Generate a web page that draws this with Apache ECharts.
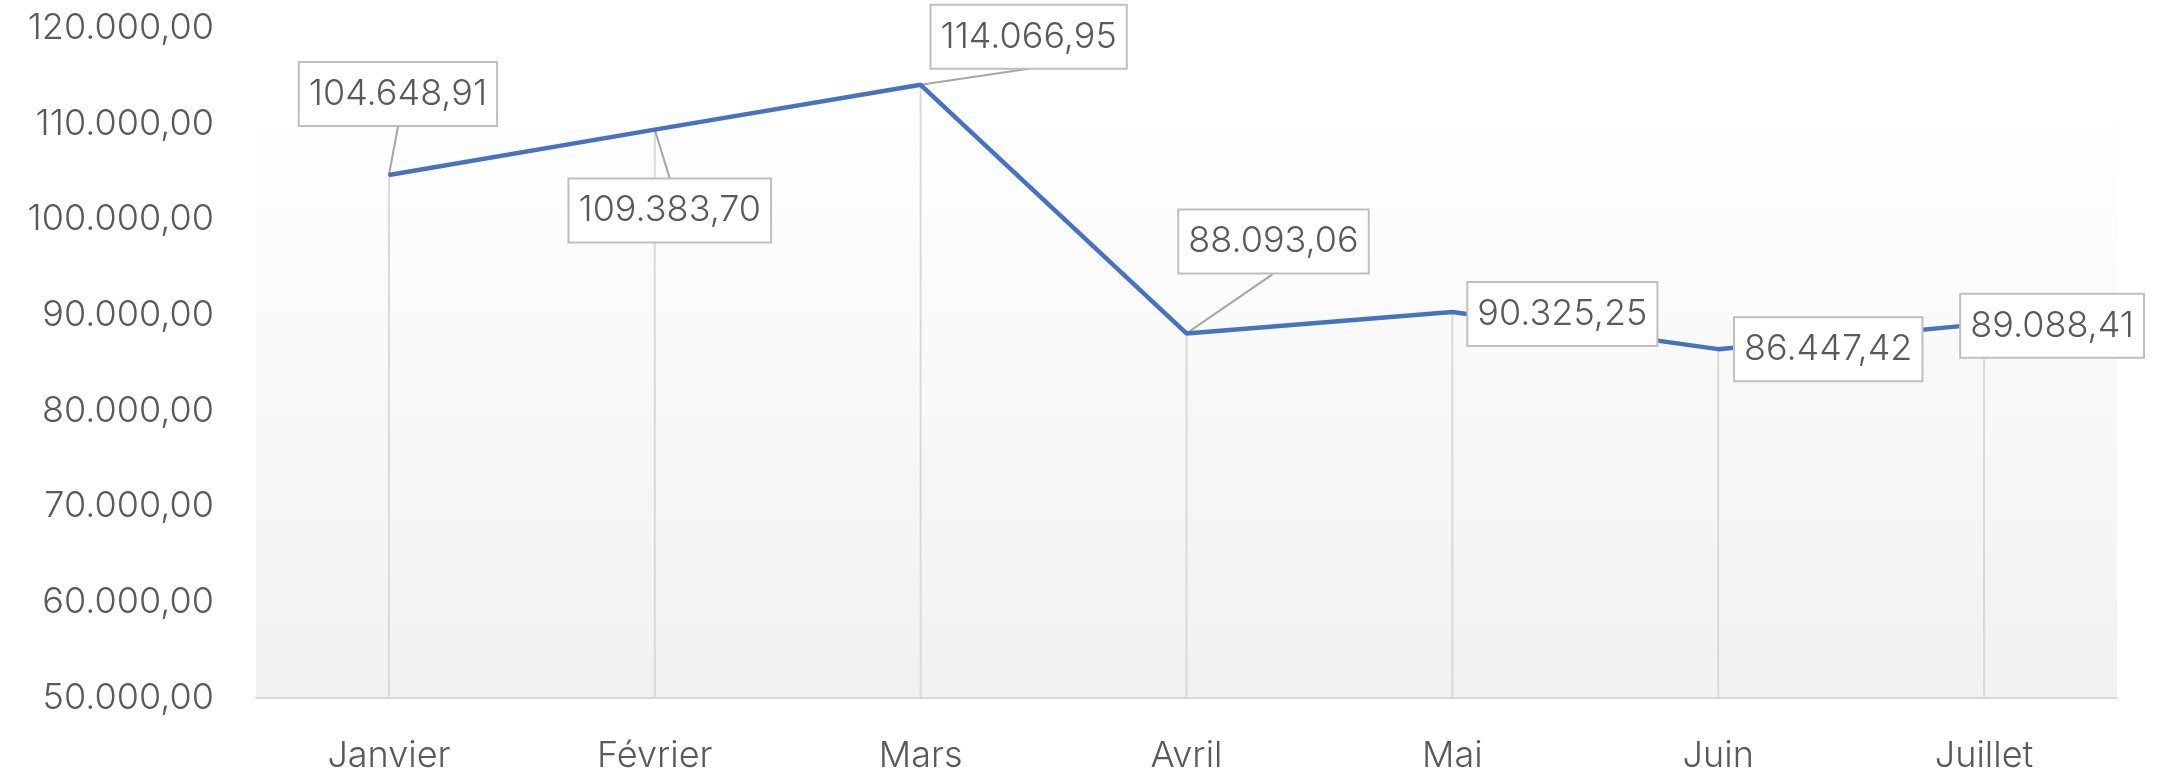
<!DOCTYPE html>
<html>
<head>
<meta charset="utf-8">
<script src="https://cdn.jsdelivr.net/npm/echarts@6/dist/echarts.min.js"></script>
<style>
html,body{margin:0;padding:0;background:#fff;}
#chart{width:2162px;height:776px;}
</style>
</head>
<body>
<div id="chart"></div>
<script>
'use strict';
//mois
var months = ['Janvier', 'Février', 'Mars', 'Avril', 'Mai', 'Juin', 'Juillet'];
//montants
var amounts = [104648.91, 109383.70, 114066.95, 88093.06, 90325.25, 86447.42, 89088.41];
//axe y
var yMin = 50000, yMax = 120000, yStep = 10000;
//décalage des étiquettes par rapport au point
var labelDx = [9, 15, 108, 87, 110, 110, 68];
var labelDy = [-81, 81, -48, -92, 2, 0, 2];
//bout des lignes de repère (null = pas de ligne)
var leaderDx = [9, 15, 108, 86, null, null, null];
var leaderDy = [-48, 49, -16, -59, null, null, null];

var font = 'Inter';
var textColor = '#595959';

//format français 104.648,91
var fmt = function(v){
    var parts = v.toFixed(2).split('.');
    var ent = parts[0].replace(/\B(?=(\d{3})+(?!\d))/g, '.');
    return ent + ',' + parts[1];
};

var points = [];
for (var i = 0; i < months.length; i++) {
    points.push([i, amounts[i]]);
}

var chart = echarts.init(document.getElementById('chart'));
var option = {
    animation: false,
    grid: {
        left: 256,
        right: 45,
        top: 28,
        bottom: 78,
        show: true,
        borderWidth: 0,
        backgroundColor: {
            type: 'linear', x: 0, y: 0, x2: 0, y2: 1,
            colorStops: [
                {offset: 0, color: '#ffffff'},
                {offset: 0.12, color: '#ffffff'},
                {offset: 1, color: '#f1f1f1'}
            ]
        }
    },
    xAxis: {
        type: 'category',
        data: months,
        boundaryGap: true,
        axisLine: {lineStyle: {color: '#d9d9d9', width: 2}},
        axisTick: {show: false},
        axisLabel: {color: textColor, fontFamily: font, fontWeight: 300, fontSize: 36, margin: 40},
        splitLine: {show: false}
    },
    yAxis: {
        type: 'value',
        min: yMin,
        max: yMax,
        interval: yStep,
        axisLine: {show: false},
        axisTick: {show: false},
        splitLine: {show: false},
        axisLabel: {
            color: textColor, fontFamily: font, fontWeight: 300, fontSize: 36, margin: 42,
            formatter: function(v){ return fmt(v); }
        }
    },
    series: [
        {
            //lignes de projection
            type: 'bar',
            data: amounts,
            barWidth: 2,
            z: 1,
            itemStyle: {color: '#d9d9d9'},
            emphasis: {disabled: true},
            silent: true
        },
        {
            //lignes de repère des étiquettes
            type: 'custom',
            data: points,
            z: 2,
            silent: true,
            renderItem: function(params, api){
                var k = params.dataIndex;
                if (leaderDx[k] === null) {
                    return null;
                }
                var p = api.coord([api.value(0), api.value(1)]);
                return {
                    type: 'line',
                    shape: {x1: p[0], y1: p[1], x2: p[0] + leaderDx[k], y2: p[1] + leaderDy[k]},
                    style: {stroke: '#a6a6a6', lineWidth: 2}
                };
            }
        },
        {
            type: 'line',
            data: amounts,
            z: 3,
            symbol: 'circle',
            symbolSize: 2,
            itemStyle: {color: '#4472c4'},
            lineStyle: {color: '#4472c4', width: 4.5},
            emphasis: {disabled: true},
            label: {
                show: true,
                formatter: function(p){ return fmt(p.value); },
                color: textColor,
                fontFamily: font,
                fontWeight: 300,
                fontSize: 36,
                lineHeight: 44,
                backgroundColor: '#ffffff',
                borderColor: '#bfbfbf',
                borderWidth: 2,
                padding: [9, 9, 9, 9]
            },
            labelLayout: function(params){
                var k = params.dataIndex;
                var r = params.rect;
                return {
                    x: r.x + r.width / 2 + labelDx[k],
                    y: r.y + r.height / 2 + labelDy[k],
                    align: 'center',
                    verticalAlign: 'middle'
                };
            }
        }
    ]
};
chart.setOption(option);
</script>
</body>
</html>
